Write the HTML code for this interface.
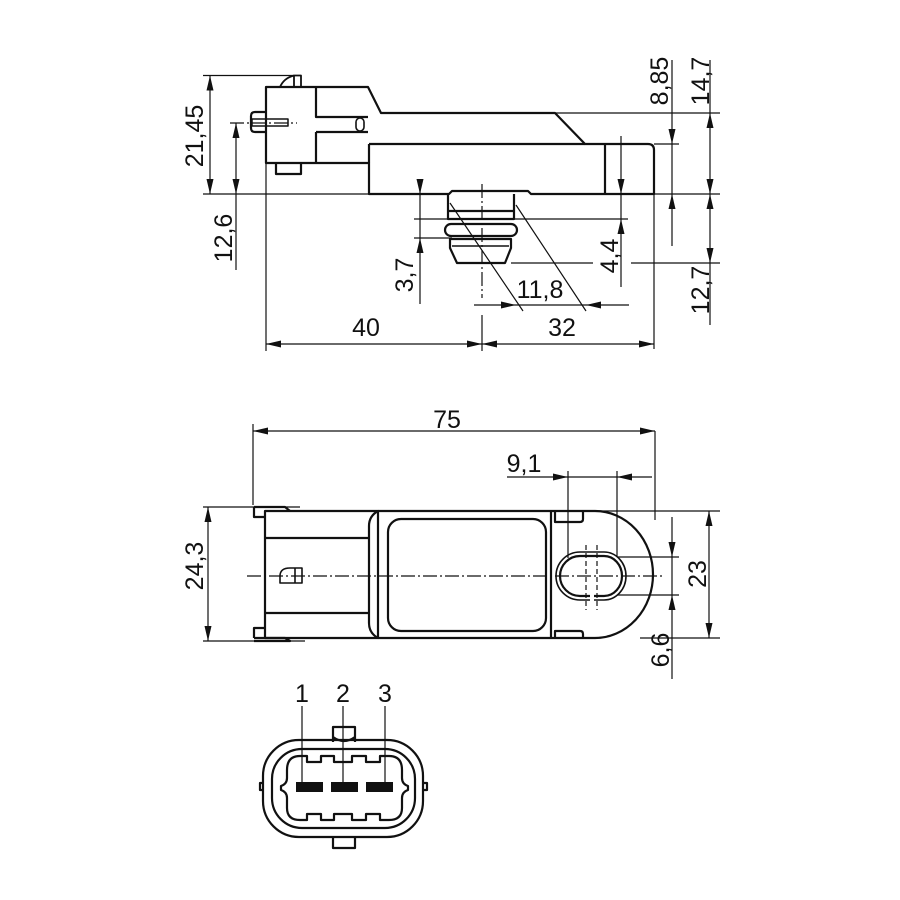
<!DOCTYPE html>
<html><head><meta charset="utf-8"><style>
html,body{margin:0;padding:0;background:#fff;}
svg{display:block;}
text{font-family:"Liberation Sans",sans-serif;font-size:25px;fill:#111;}
</style></head><body>
<svg width="900" height="900" viewBox="0 0 900 900" xmlns="http://www.w3.org/2000/svg">
<defs>
<marker id="a" markerUnits="userSpaceOnUse" markerWidth="15" markerHeight="8" refX="15" refY="4" orient="auto-start-reverse"><path d="M0,0.5 L15,4 L0,7.5 z" fill="#111"/></marker>
</defs>
<g fill="none" stroke="#111" stroke-width="2.2" stroke-linejoin="round">
<!-- TOP VIEW -->
<path d="M266,87 H368 L381,113 H555 L585,144 H648 Q654,144 654,150 V194 H531 L528,191 H452 L449,194 H369 V163 H266 Z"/>
<path d="M369,144 H585 M605,144 V194 M369,144 V163"/>
<path d="M316,87 V117 H368 M316,132 V163 M316,132 H368"/>
<path d="M266,112 H255 Q251,112 251,116 V128 Q251,132 255,132 H266"/>
<rect x="252" y="119" width="36" height="7" stroke-width="1.5"/>
<path d="M276,163 V174 H301 V163"/>
<path d="M280,87 Q284,78 294,75.5 H301 V87 M294,75.5 V87" stroke-width="1.8"/>
<rect x="356" y="118" width="8" height="13" rx="4" stroke-width="1.6"/>
<path d="M448,194 V211 H514 V194 M448,211 V219 H514 V211"/>
<rect x="445" y="224" width="72" height="12" rx="6"/>
<path d="M450,239 H511 V248 L505,263 H457 L450,248 Z"/>
<path d="M452,246 H509" stroke-width="1.4"/>
<!-- MIDDLE VIEW -->
<path d="M265,511 H378 V638 H265 Z"/>
<path d="M254,507 H285 L290,511 M254,507 V517 H265 M254,638 V628 H265 M254,638 H285 L290,641 H254"/>
<path d="M265,538 H369 M265,613 H369"/>
<path d="M378,511 Q369,516 369,526 V623 Q369,633 378,638"/>
<path d="M378,511 H595 A58,63.5 0 0 1 595,638 H378"/>
<rect x="388" y="519" width="158" height="112" rx="13"/>
<path d="M551,511 V638 M555,511 V522 H580 Q583,522 583,519 V511 M555,638 V631 H580 Q583,631 583,634 V638"/>
<path d="M590,596 H580 A20,20 0 0 1 580,556 H604 A18,20 0 0 1 604,596 H594" />
<path d="M590,600 H580 A24,24 0 0 1 580,552 H604 A22,24 0 0 1 604,600 H594" stroke-width="1.6"/>
<path d="M280,583 H302 V568 H290 Q280,568 280,576 Z M295,568 V583" stroke-width="1.6"/>
<!-- CONNECTOR -->
<rect x="263" y="740" width="160" height="97" rx="36"/>
<rect x="272" y="749" width="143" height="79" rx="30"/>
<path d="M300,756 H307 V762 H321 V756 H334 V762 H352 V756 H366 V762 H380 V756 H389 Q402,756 402,770 V778 Q402,784 408,786 V790 Q402,792 402,798 V808 Q402,820 389,820 H380 V814 H366 V820 H352 V814 H334 V820 H321 V814 H307 V820 H300 Q287,820 287,808 V798 Q287,792 281,790 V786 Q287,784 287,778 V770 Q287,756 300,756 Z"/>
<path d="M333,742 V727 H355 V742 M333,737 Q344,745 355,737 M333,837 V848 H355 V837 M263,783 H260 V790 H263 M423,783 H427 V790 H423"/>
</g>
<g fill="#111">
<rect x="296" y="782" width="27" height="10"/>
<rect x="331" y="782" width="27" height="10"/>
<rect x="366" y="782" width="27" height="10"/>
</g>
<!-- thin lines -->
<g fill="none" stroke="#111" stroke-width="1.2">
<path d="M203,75.5 H294 M203,194 H369 M654,194 H720 M555,113 H720 M654,144 H679 M511,263 H593 M631,263 H720 M414,219 H628 M414,238 H452"/>
<path d="M266,163 V351 M654,194 V349 M482,315 V351 M236,194 V270"/>
<path d="M450,203 L523,311 M516,205 L586,311"/>
<path d="M482,184 V298 M230,123 H297" stroke-dasharray="14,3,2,3"/>
<path d="M203,507 H300 M203,641 H305 M595,511 H720 M640,638 H720 M617,557 H679 M617,595 H679 M568,471 V558 M617,471 V557 M655,431 V520 M253,424 V505"/>
<path d="M247,576 H664" stroke-dasharray="14,3,2,3"/>
<path d="M586,545 V610 M597,545 V610" stroke-dasharray="5,3"/>
<path d="M302,706 V782 M343,706 V782 M385,706 V782"/>
</g>
<!-- dimension lines -->
<g fill="none" stroke="#111" stroke-width="1.2">
<line x1="210" y1="75.5" x2="210" y2="194" marker-start="url(#a)" marker-end="url(#a)"/>
<line x1="236" y1="123" x2="236" y2="194" marker-start="url(#a)" marker-end="url(#a)"/>
<line x1="266" y1="344" x2="482" y2="344" marker-start="url(#a)" marker-end="url(#a)"/>
<line x1="482" y1="344" x2="654" y2="344" marker-start="url(#a)" marker-end="url(#a)"/>
<line x1="420" y1="179" x2="420" y2="194" marker-end="url(#a)"/>
<line x1="420" y1="194" x2="420" y2="238"/>
<line x1="420" y1="304" x2="420" y2="238" marker-end="url(#a)"/>
<line x1="621" y1="136" x2="621" y2="194" marker-end="url(#a)"/>
<line x1="621" y1="194" x2="621" y2="219"/>
<line x1="621" y1="287" x2="621" y2="219" marker-end="url(#a)"/>
<line x1="474" y1="305" x2="516" y2="305" marker-end="url(#a)"/>
<line x1="516" y1="305" x2="586" y2="305"/>
<line x1="629" y1="305" x2="586" y2="305" marker-end="url(#a)"/>
<line x1="672" y1="60" x2="672" y2="144" marker-end="url(#a)"/>
<line x1="672" y1="144" x2="672" y2="194"/>
<line x1="672" y1="246" x2="672" y2="194" marker-end="url(#a)"/>
<line x1="710" y1="60" x2="710" y2="113"/>
<line x1="710" y1="113" x2="710" y2="194" marker-start="url(#a)" marker-end="url(#a)"/>
<line x1="710" y1="194" x2="710" y2="263" marker-start="url(#a)" marker-end="url(#a)"/>
<line x1="710" y1="263" x2="710" y2="325"/>
<line x1="253" y1="431" x2="655" y2="431" marker-start="url(#a)" marker-end="url(#a)"/>
<line x1="507" y1="477" x2="568" y2="477" marker-end="url(#a)"/>
<line x1="568" y1="477" x2="617" y2="477"/>
<line x1="652" y1="477" x2="617" y2="477" marker-end="url(#a)"/>
<line x1="709" y1="511" x2="709" y2="638" marker-start="url(#a)" marker-end="url(#a)"/>
<line x1="672" y1="517" x2="672" y2="557" marker-end="url(#a)"/>
<line x1="672" y1="557" x2="672" y2="595"/>
<line x1="672" y1="679" x2="672" y2="595" marker-end="url(#a)"/>
<line x1="208" y1="507" x2="208" y2="641" marker-start="url(#a)" marker-end="url(#a)"/>
</g>
<!-- labels -->
<g text-anchor="middle">
<text x="366" y="336">40</text>
<text x="562" y="336">32</text>
<text x="540" y="298">11,8</text>
<text x="447" y="428">75</text>
<text x="524" y="472">9,1</text>
<text x="302" y="702">1</text>
<text x="343" y="702">2</text>
<text x="385" y="702">3</text>
<text transform="translate(203,136) rotate(-90)">21,45</text>
<text transform="translate(232,238) rotate(-90)">12,6</text>
<text transform="translate(413,275) rotate(-90)">3,7</text>
<text transform="translate(618,256) rotate(-90)">4,4</text>
<text transform="translate(668,81) rotate(-90)">8,85</text>
<text transform="translate(709,81) rotate(-90)">14,7</text>
<text transform="translate(709,290) rotate(-90)">12,7</text>
<text transform="translate(203,566) rotate(-90)">24,3</text>
<text transform="translate(706,574) rotate(-90)">23</text>
<text transform="translate(669,650) rotate(-90)">6,6</text>
</g>
</svg>
</body></html>
